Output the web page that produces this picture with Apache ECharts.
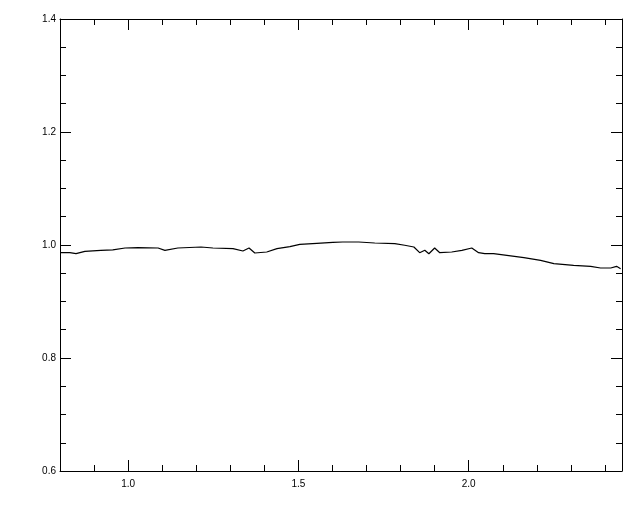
<!DOCTYPE html>
<html>
<head>
<meta charset="utf-8">
<script src="https://cdn.jsdelivr.net/npm/echarts@6/dist/echarts.min.js"></script>
<style>
html,body{margin:0;padding:0;background:#fff;}
#chart{width:640px;height:512px;}
</style>
</head>
<body>
<div id="chart"></div>
<script>
// Data
var wavelength = [0.800,0.829,0.847,0.873,0.920,0.955,0.991,1.029,1.088,1.108,1.146,1.214,1.249,1.308,1.337,1.355,1.372,1.407,1.437,1.475,1.504,1.554,1.601,1.630,1.677,1.724,1.783,1.812,1.839,1.856,1.871,1.883,1.900,1.915,1.950,1.980,2.009,2.029,2.047,2.073,2.112,2.162,2.211,2.250,2.308,2.358,2.387,2.417,2.434,2.446];
var ratio = [0.9864,0.9864,0.9846,0.9888,0.9906,0.9915,0.9947,0.9952,0.9947,0.9906,0.9947,0.9965,0.9947,0.9935,0.9894,0.9947,0.9858,0.9876,0.9935,0.9970,1.0012,1.0030,1.0048,1.0053,1.0053,1.0035,1.0023,0.9995,0.9965,0.9864,0.9906,0.9846,0.9947,0.9864,0.9876,0.9906,0.9947,0.9864,0.9846,0.9846,0.9818,0.9775,0.9729,0.9669,0.9641,0.9623,0.9593,0.9593,0.9623,0.9581];
var xMajorTicks = [1.0, 1.5, 2.0];
var xRange = [0.8, 2.45];
var yRange = [0.6, 1.4];

var pts = wavelength.map(function(x, i){ return [x, ratio[i]]; });
var font = {fontFamily: 'Liberation Sans', fontSize: 10, color: '#000'};
var axisLine = {show: true, lineStyle: {color: '#000', width: 1}};

function xMinor(pos, labels) {
  return {
    type: 'value', position: pos, min: xRange[0], max: xRange[1], interval: 0.1,
    axisLine: axisLine,
    axisTick: {show: true, inside: true, length: 6, lineStyle: {color: '#000', width: 1}},
    axisLabel: labels ? Object.assign({show: true, margin: 8, formatter: function(v){
      return Math.abs(v*2 - Math.round(v*2)) < 1e-6 && xMajorTicks.some(function(m){return Math.abs(m-v)<1e-6;}) ? v.toFixed(1) : '';
    }}, font) : {show: false},
    splitLine: {show: false}
  };
}
function xMajor(pos) {
  return {
    type: 'value', position: pos, min: xRange[0], max: xRange[1],
    axisLine: {show: false},
    axisTick: {show: true, inside: true, length: 11, customValues: xMajorTicks, lineStyle: {color: '#000', width: 1}},
    axisLabel: {show: false},
    splitLine: {show: false}
  };
}
function yAx(pos, labels) {
  return {
    type: 'value', position: pos, min: yRange[0], max: yRange[1], interval: 0.2,
    axisLine: axisLine,
    axisTick: {show: true, inside: true, length: 11, lineStyle: {color: '#000', width: 1}},
    minorTick: {show: true, splitNumber: 4, length: 6, lineStyle: {color: '#000', width: 1}},
    axisLabel: labels ? Object.assign({show: true, margin: 4, formatter: function(v){ return v.toFixed(1); }}, font) : {show: false},
    splitLine: {show: false}, minorSplitLine: {show: false}
  };
}

var chart = echarts.init(document.getElementById('chart'), null, {renderer: 'canvas'});
chart.setOption({
  animation: false,
  backgroundColor: '#fff',
  grid: {left: 60, right: 18, top: 19, bottom: 41, containLabel: false},
  xAxis: [xMinor('bottom', true), xMajor('bottom'), xMinor('top', false), xMajor('top')],
  yAxis: [yAx('left', true), yAx('right', false)],
  series: [{
    type: 'line', xAxisIndex: 0, yAxisIndex: 0, data: pts,
    showSymbol: false, symbol: 'none',
    lineStyle: {color: '#000', width: 1.2}
  }]
});
</script>
</body>
</html>
